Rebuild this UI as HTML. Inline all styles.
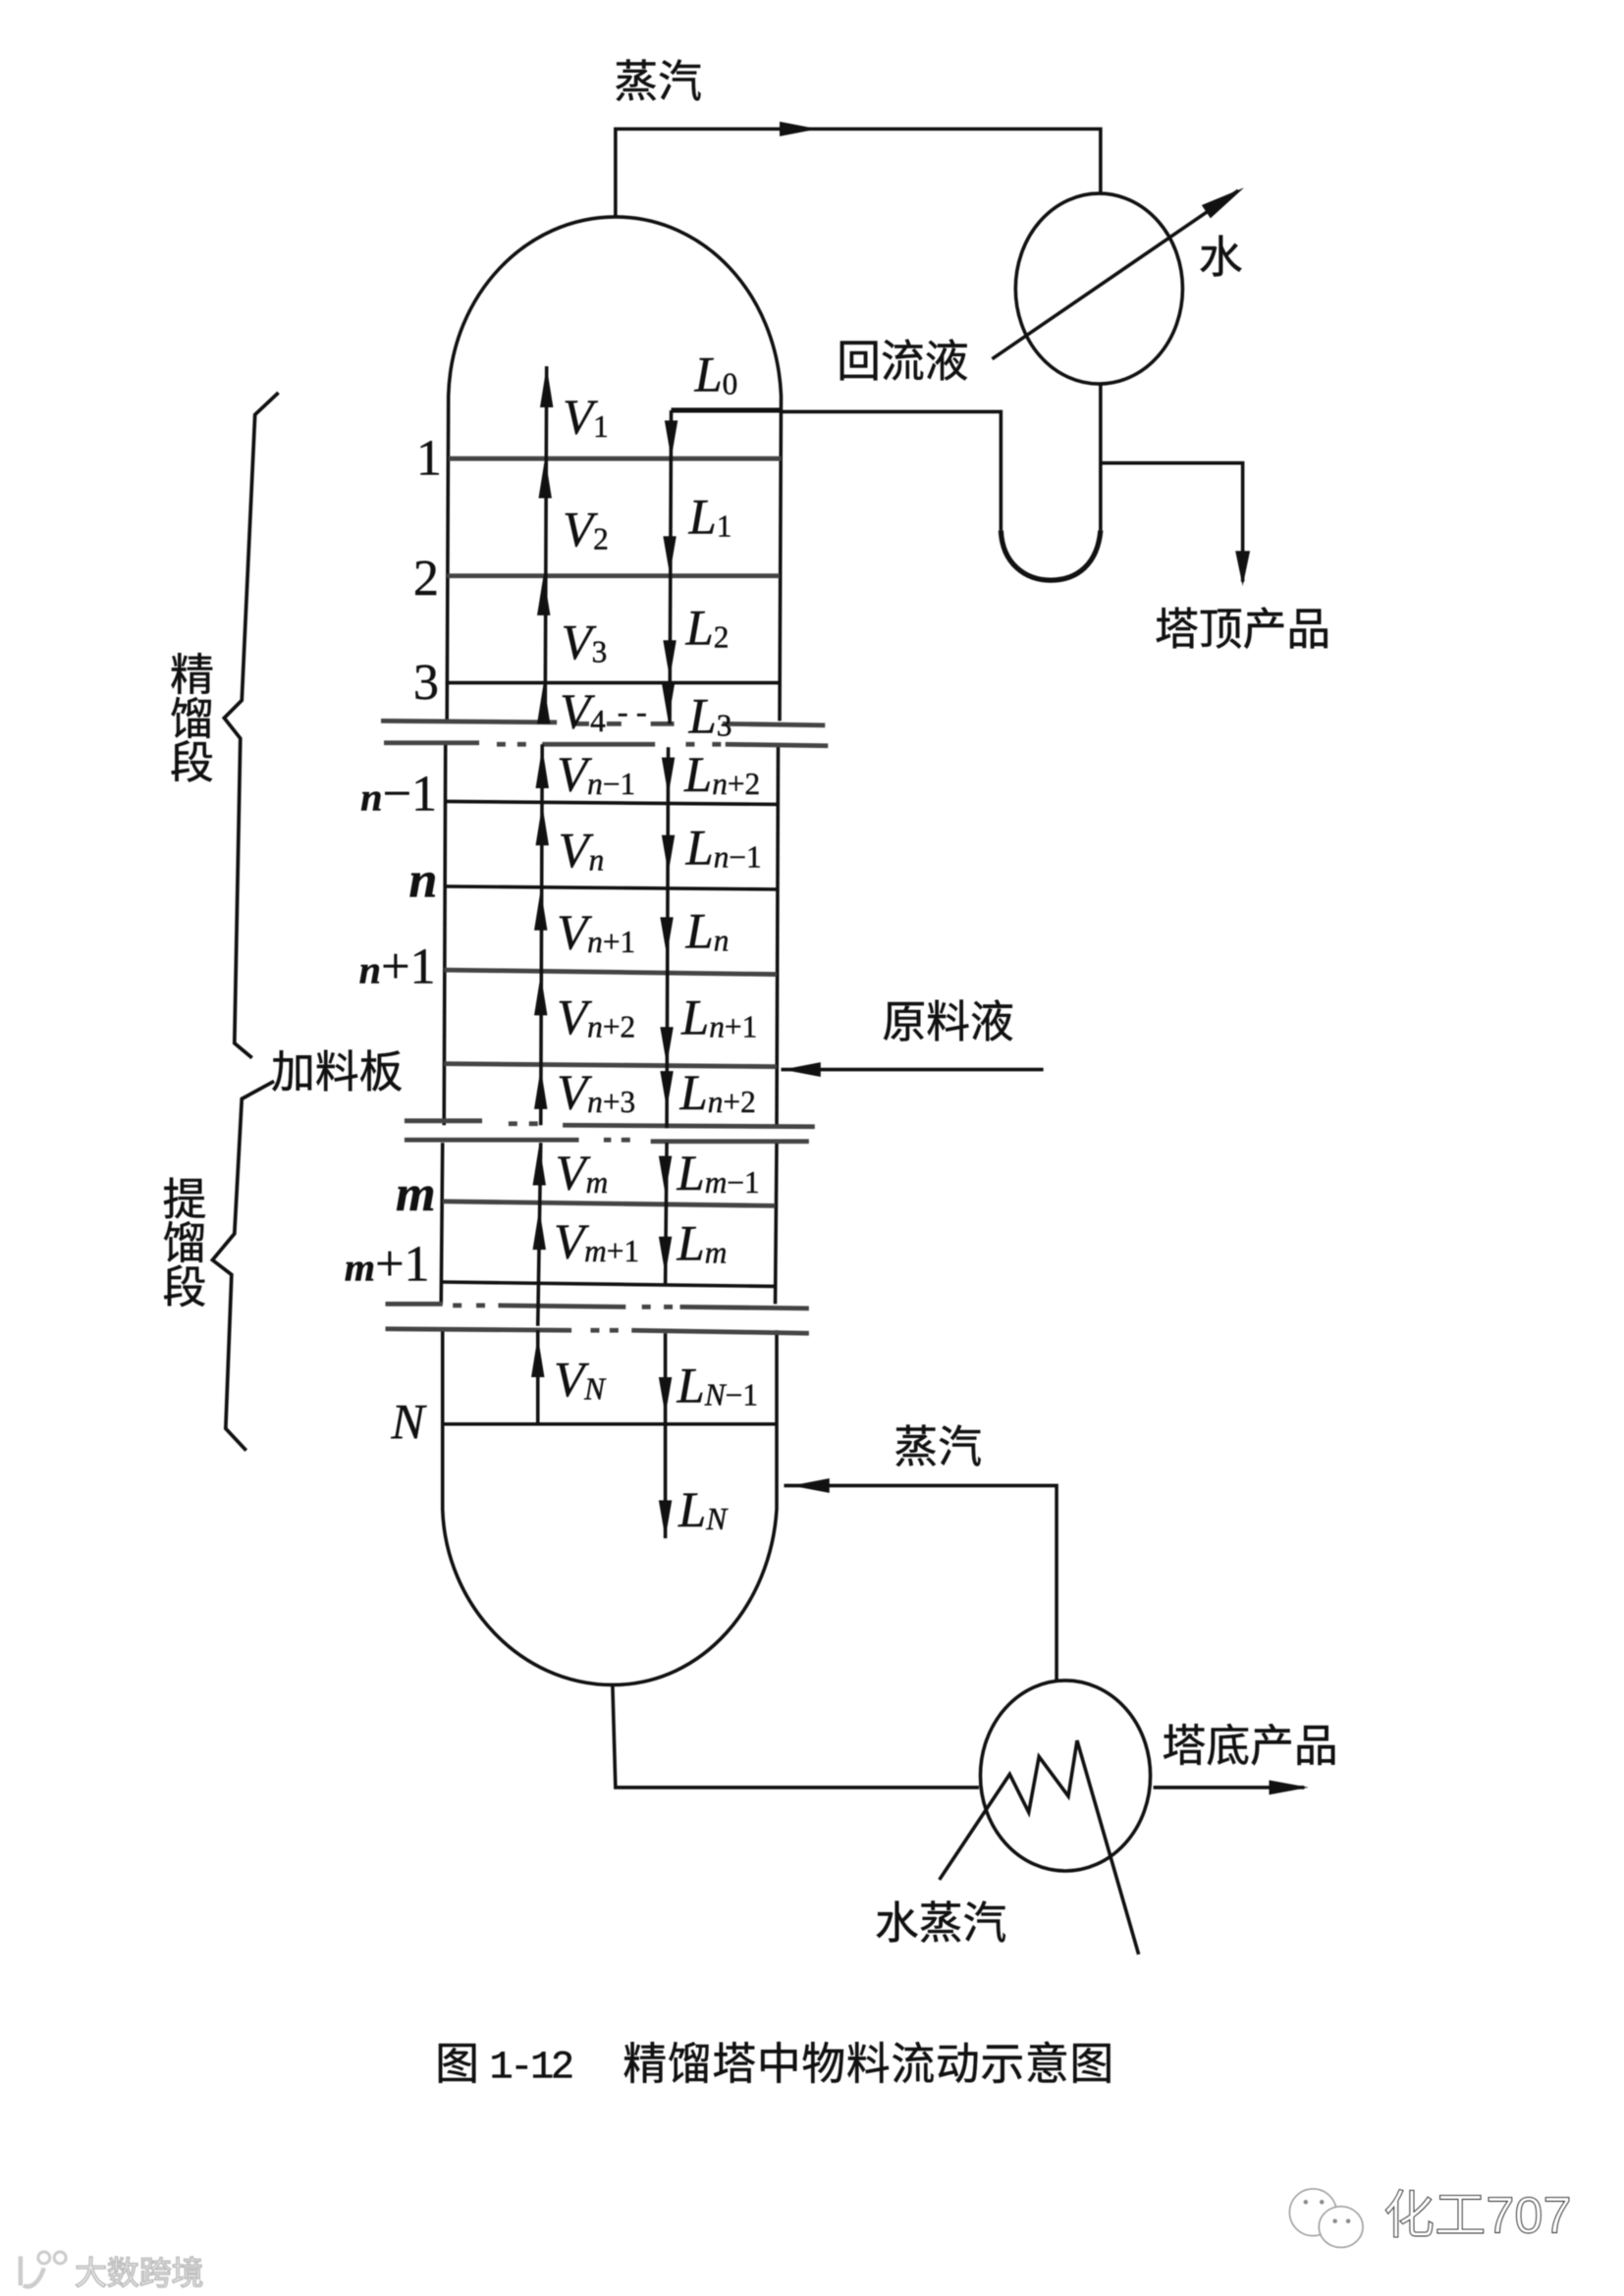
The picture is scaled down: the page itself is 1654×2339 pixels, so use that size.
<!DOCTYPE html>
<html><head><meta charset="utf-8"><style>
html,body{margin:0;padding:0;background:#fff}
svg{display:block;width:1654px;height:2339px;filter:blur(.55px)}
.c{font-family:"Liberation Sans","Noto Sans CJK SC",sans-serif;font-size:30px;fill:#111;stroke:#111;stroke-width:.35}
.v{font-family:"Liberation Serif",serif;font-style:italic;font-size:34px;fill:#111;stroke:#111;stroke-width:.3}
.s{font-size:21px}
.n{font-family:"Liberation Serif",serif;font-size:35px;fill:#111;stroke:#111;stroke-width:.3}
.l{stroke:#111;stroke-width:2.4;fill:none}
.g{stroke:#444;stroke-width:3.2;fill:none}
</style></head><body>
<svg xmlns="http://www.w3.org/2000/svg" viewBox="0 0 1108.2 1567.1">
<defs>
<polygon id="u" points="0,0 4.5,28 -4.5,28" fill="#111"/>
<polygon id="d" points="0,0 4.5,-26 -4.5,-26" fill="#111"/>
</defs>
<rect width="1109" height="1568" fill="#fff"/>

<g class="l">
<!-- shell -->
<path d="M305,492 L306,270 C308,200 360,148 420,148 C480,148 530,200 533,270 L532,492"/>
<path d="M304,508 L303,768"/>
<path d="M302,780 L301,890"/>
<path d="M302,908 L302,1030 C304,1095 355,1150 418,1150 C480,1150 526,1095 530,1030 L530,908"/>
<path d="M531,508 L530,768"/>
<path d="M530,780 L529,890"/>
<!-- trays -->
<path class="g" d="M306,313 L533,313"/>
<path class="g" d="M305,393 L532,393"/>
<path d="M304,466 L531,466"/>
<path d="M304,547 L531,549"/>
<path d="M304,605 L530,607"/>
<path class="g" d="M303,662 L530,665"/>
<path class="g" d="M303,726 L530,728"/>
<path class="g" d="M302,820 L529,823"/>
<path d="M301,875 L529,878"/>
<path d="M301,972 L530,972"/>
<!-- breaks -->
<path class="g" d="M260,492 L380,493 M392,494 H402 M414,494 H424 M444,494 H460 M493,494 L563,495"/>
<path class="g" d="M262,507 L327,507 M339,508 H345 M353,508 H359 M370,508 L447,508 M468,508 H474 M486,508 H492 M495,508 L565,509"/>
<path class="g" d="M276,765 L329,765 M347,767 H353 M361,767 H367 M384,768 L556,769"/>
<path class="g" d="M276,778 L395,778 M412,778 H417 M424,778 H430 M444,779 L552,779"/>
<path class="g" d="M263,890 L302,890 M309,891 H315 M325,891 H331 M340,891 L427,892 M438,892 H444 M453,892 H459 M464,892 L552,893"/>
<path class="g" d="M263,907 L390,908 M403,908 H409 M416,908 H422 M431,908 L552,910"/>
<!-- V line -->
<path d="M373,250 L372,493 M370,508 L369,768 M369,780 L367,905 M367,908 L367,972"/>
<!-- L line -->
<path d="M458,280 L457,494 M456,510 L455,770 M455,780 L454,877 M454,910 L454,1050"/>
<!-- reflux -->
<path d="M458,280 H533" stroke-width="3.5"/>
<path d="M533,281 H683 V362"/>
<path d="M683,362 C684,385 700,396 717,396 C735,396 749,385 751,362" stroke-width="3.5"/>
<!-- overhead -->
<path d="M420,148 V88 H751 V132"/>
<ellipse cx="750" cy="197" rx="57" ry="65"/>
<path d="M677,245 L845,130"/>
<path d="M751,262 V362"/>
<path d="M752,316 H848 V397"/>
<!-- feed -->
<path d="M533,730 H712"/>
<!-- bottom -->
<path d="M418,1150 L420,1220 H668"/>
<path d="M721,1147 V1014 H535"/>
<ellipse cx="727" cy="1212" rx="58" ry="65"/>
<path d="M787,1220 H890"/>
<path d="M641,1283 L689,1211 L702,1237 L709,1199 L729,1226 L735,1188 L777,1334"/>
<!-- braces -->
<path d="M190,268 L174,283 L165,478 L153,490 L164,504 L160,712 L172,722" stroke-width="2.5"/>
<path d="M187,738 L165,750 L160,842 L145,860 L158,870 L154,975 L168,990" stroke-width="2.5"/>
</g>

<!-- arrowheads -->
<use href="#u" x="373" y="250"/><use href="#u" x="372" y="312"/><use href="#u" x="371" y="392"/><use href="#u" x="371" y="466"/>
<use href="#u" x="370" y="510"/><use href="#u" x="370" y="549"/><use href="#u" x="369" y="607"/><use href="#u" x="369" y="665"/>
<use href="#u" x="369" y="729"/><use href="#u" x="368" y="781"/><use href="#u" x="368" y="825"/><use href="#u" x="367" y="912"/>
<use href="#d" x="458" y="313"/><use href="#d" x="457" y="392"/><use href="#d" x="457" y="463"/><use href="#d" x="456" y="492"/>
<use href="#d" x="456" y="543"/><use href="#d" x="456" y="596"/><use href="#d" x="455" y="652"/><use href="#d" x="455" y="727"/>
<use href="#d" x="455" y="757"/><use href="#d" x="454" y="815"/><use href="#d" x="454" y="870"/><use href="#d" x="454" y="966"/>
<use href="#d" x="454" y="1050"/>
<polygon points="558,88 532,83 532,93" fill="#111"/>
<polygon points="849,128 820,140 826,149" fill="#111"/>
<polygon points="848,400 843,376 853,376" fill="#111"/>
<polygon points="534,730 560,725 560,735" fill="#111"/>
<polygon points="540,1014 566,1009 566,1019" fill="#111"/>
<polygon points="893,1220 866,1215 866,1225" fill="#111"/>

<!-- V labels -->
<text class="v" x="384" y="296">V<tspan class="s" dy="2" font-style="normal">1</tspan></text>
<text class="v" x="384" y="373">V<tspan class="s" dy="2" font-style="normal">2</tspan></text>
<text class="v" x="383" y="450">V<tspan class="s" dy="2" font-style="normal">3</tspan></text>
<text class="v" x="382" y="497">V<tspan class="s" dy="2" font-style="normal">4</tspan><tspan dx="8" font-size="22" dy="-6">- -</tspan></text>
<text class="v" x="380" y="540">V<tspan class="s" dy="2">n</tspan><tspan class="s" font-style="normal">−1</tspan></text>
<text class="v" x="381" y="592">V<tspan class="s" dy="2">n</tspan></text>
<text class="v" x="380" y="648">V<tspan class="s" dy="2">n</tspan><tspan class="s" font-style="normal">+1</tspan></text>
<text class="v" x="380" y="706">V<tspan class="s" dy="2">n</tspan><tspan class="s" font-style="normal">+2</tspan></text>
<text class="v" x="380" y="757">V<tspan class="s" dy="2">n</tspan><tspan class="s" font-style="normal">+3</tspan></text>
<text class="v" x="379" y="812">V<tspan class="s" dy="2">m</tspan></text>
<text class="v" x="378" y="859">V<tspan class="s" dy="2">m</tspan><tspan class="s" font-style="normal">+1</tspan></text>
<text class="v" x="378" y="953">V<tspan class="s" dy="2">N</tspan></text>
<!-- L labels -->
<text class="v" x="474" y="267">L<tspan class="s" dy="2" font-style="normal">0</tspan></text>
<text class="v" x="470" y="364">L<tspan class="s" dy="2" font-style="normal">1</tspan></text>
<text class="v" x="468" y="440">L<tspan class="s" dy="2" font-style="normal">2</tspan></text>
<text class="v" x="470" y="500">L<tspan class="s" dy="2" font-style="normal">3</tspan></text>
<text class="v" x="467" y="540">L<tspan class="s" dy="2">n</tspan><tspan class="s" font-style="normal">+2</tspan></text>
<text class="v" x="468" y="590">L<tspan class="s" dy="2">n</tspan><tspan class="s" font-style="normal">−1</tspan></text>
<text class="v" x="468" y="647">L<tspan class="s" dy="2">n</tspan></text>
<text class="v" x="465" y="706">L<tspan class="s" dy="2">n</tspan><tspan class="s" font-style="normal">+1</tspan></text>
<text class="v" x="464" y="757">L<tspan class="s" dy="2">n</tspan><tspan class="s" font-style="normal">+2</tspan></text>
<text class="v" x="462" y="812">L<tspan class="s" dy="2">m</tspan><tspan class="s" font-style="normal">−1</tspan></text>
<text class="v" x="462" y="860">L<tspan class="s" dy="2">m</tspan></text>
<text class="v" x="462" y="957">L<tspan class="s" dy="2">N</tspan><tspan class="s" font-style="normal">−1</tspan></text>
<text class="v" x="463" y="1042">L<tspan class="s" dy="2">N</tspan></text>

<!-- tray numbers -->
<text class="n" x="284" y="324">1</text>
<text class="n" x="282" y="406">2</text>
<text class="n" x="282" y="477">3</text>
<text class="n" x="246" y="553"><tspan font-style="italic" font-weight="bold" font-size="27">n</tspan>−1</text>
<text class="n" x="279" y="612" font-style="italic" font-weight="bold" font-size="27">n</text>
<text class="n" x="245" y="671"><tspan font-style="italic" font-weight="bold" font-size="27">n</tspan>+1</text>
<text class="n" x="270" y="826" font-style="italic" font-weight="bold" font-size="27">m</text>
<text class="n" x="235" y="874"><tspan font-style="italic" font-weight="bold" font-size="27">m</tspan>+1</text>
<text class="v" x="267" y="982" font-size="32">N</text>

<!-- Chinese labels -->
<text class="c" x="419" y="66">蒸汽</text>
<text class="c" x="818" y="186">水</text>
<text class="c" x="571" y="257">回流液</text>
<text class="c" x="788" y="440">塔顶产品</text>
<text class="c" x="116" y="471">精</text>
<text class="c" x="116" y="501">馏</text>
<text class="c" x="116" y="531">段</text>
<text class="c" x="185" y="742">加料板</text>
<text class="c" x="602" y="708">原料液</text>
<text class="c" x="111" y="829">提</text>
<text class="c" x="111" y="859">馏</text>
<text class="c" x="111" y="889">段</text>
<text class="c" x="610" y="998">蒸汽</text>
<text class="c" x="793" y="1202">塔底产品</text>
<text class="c" x="597" y="1323">水蒸汽</text>
<text class="c" x="297" y="1419">图</text>
<text class="c" x="334" y="1418" style="font-family:'Liberation Mono',monospace;font-size:27px" textLength="58">1-12</text>
<text class="c" x="425" y="1419" textLength="335">精馏塔中物料流动示意图</text>

<!-- watermarks -->
<g fill="#fff" stroke="#999" stroke-width="1">
<ellipse cx="896" cy="1510" rx="16" ry="16"/>
<ellipse cx="915" cy="1520" rx="15" ry="14"/>
</g>
<g fill="#888"><circle cx="891" cy="1503" r="1.5"/><circle cx="902" cy="1503" r="1.5"/><circle cx="911" cy="1516" r="1.5"/><circle cx="920" cy="1516" r="1.5"/></g>
<text x="944" y="1524" font-family="Liberation Sans,Noto Sans CJK SC,sans-serif" font-size="35" fill="#fff" stroke="#222" stroke-width=".6">化工707</text>
<g fill="none" stroke="#ccc">
<path d="M14,1540 V1560 M30,1548 C26,1560 20,1562 16,1560" stroke-width="3"/>
<circle cx="30" cy="1541" r="4" stroke-width="2"/>
<circle cx="41" cy="1541" r="4" stroke-width="2"/>
</g>
<text x="51" y="1559" font-family="Liberation Sans,Noto Sans CJK SC,sans-serif" font-size="22" fill="#f4f4f4" stroke="#bbb" stroke-width="1">大数跨境</text>
</svg>
</body></html>
